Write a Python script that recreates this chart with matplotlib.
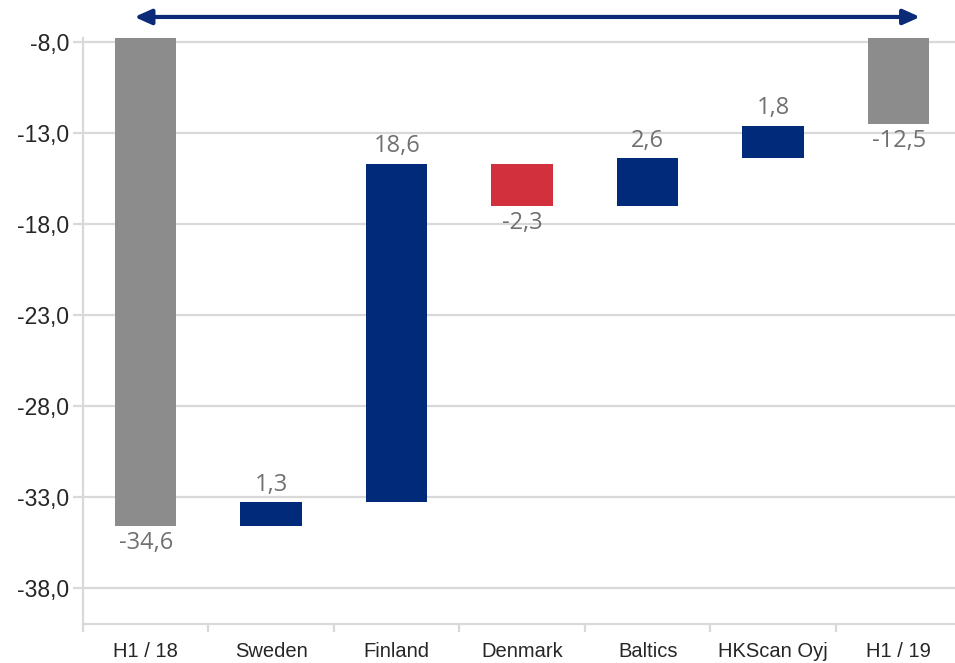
import numpy as np
import matplotlib.pyplot as plt

# EBIT bridge, H1/18 -> H1/19
categories = ['H1 / 18', 'Sweden', 'Finland', 'Denmark', 'Baltics', 'HKScan Oyj', 'H1 / 19']
start_value = -34.6
changes = [1.3, 18.6, -2.3, 2.6, 1.8]
end_value = -12.5
yticks = [-8.0, -13.0, -18.0, -23.0, -28.0, -33.0, -38.0]

grey = '#8C8C8C'
navy = '#012B7A'
red = '#D1303C'
label_grey = '#707070'

fig = plt.figure(figsize=(9.55, 6.63), dpi=100)
ax = fig.add_axes([0.0869, 0.0588, 0.9199, 0.8835])

x = np.arange(len(categories))
w = 0.49

# running level before/after each change
levels = np.concatenate([[start_value], start_value + np.cumsum(changes)])

# totals hang from zero and get clipped at the top of the axes
ax.bar(x[0], -start_value, bottom=start_value, width=w, color=grey, zorder=3)
ax.bar(x[-1], -end_value, bottom=end_value, width=w, color=grey, zorder=3)

lbl = dict(ha='center', fontsize=17, color=label_grey, family='Open Sans',
           textcoords='offset points')

for i, ch in enumerate(changes):
    before = levels[i]
    after = levels[i + 1]
    color = navy if ch > 0 else red
    ax.bar(x[i + 1], after - before, bottom=before, width=w, color=color, zorder=3)
    txt = f'{ch:.1f}'.replace('.', ',')
    if ch > 0:
        ax.annotate(txt, (x[i + 1], after), xytext=(0, 4), va='bottom', **lbl)
    else:
        ax.annotate(txt, (x[i + 1], after), xytext=(0, -4), va='top', **lbl)

for xi, v in [(x[0], start_value), (x[-1], end_value)]:
    ax.annotate(f'{v:.1f}'.replace('.', ','), (xi, v), xytext=(0, -4), va='top', **lbl)

ax.set_xlim(-0.5, len(categories) - 0.5)
ax.set_ylim(-40, -7.8)
ax.set_yticks(yticks)
ax.set_yticklabels([f'{t:.1f}'.replace('.', ',') for t in yticks],
                   fontsize=16.5, color='#262626', family='Liberation Sans')
ax.grid(axis='y', color='#D9D9D9', linewidth=1.6, zorder=0)

# category labels centred, tick marks on the boundaries
ax.set_xticks(x)
ax.set_xticklabels(categories, fontsize=14.5, color='#262626', family='Liberation Sans')
ax.set_xticks(np.arange(len(categories) + 1) - 0.5, minor=True)
ax.tick_params(axis='x', which='major', length=0, pad=13)
ax.tick_params(axis='x', which='minor', length=6, width=1.6, color='#D9D9D9')
ax.tick_params(axis='y', length=7, width=1.6, color='#D9D9D9', pad=3)

for side in ['top', 'right']:
    ax.spines[side].set_visible(False)
for side in ['left', 'bottom']:
    ax.spines[side].set_color('#D9D9D9')
    ax.spines[side].set_linewidth(1.6)

# double arrow across the whole bridge
ax.annotate('', xy=(6.17, -6.63), xytext=(-0.09, -6.63), xycoords='data',
            arrowprops=dict(arrowstyle='<|-|>,head_length=1.0,head_width=0.45',
                            color='#0B2A78', lw=3, shrinkA=0, shrinkB=0),
            annotation_clip=False)

plt.savefig('out.png', dpi=100)
